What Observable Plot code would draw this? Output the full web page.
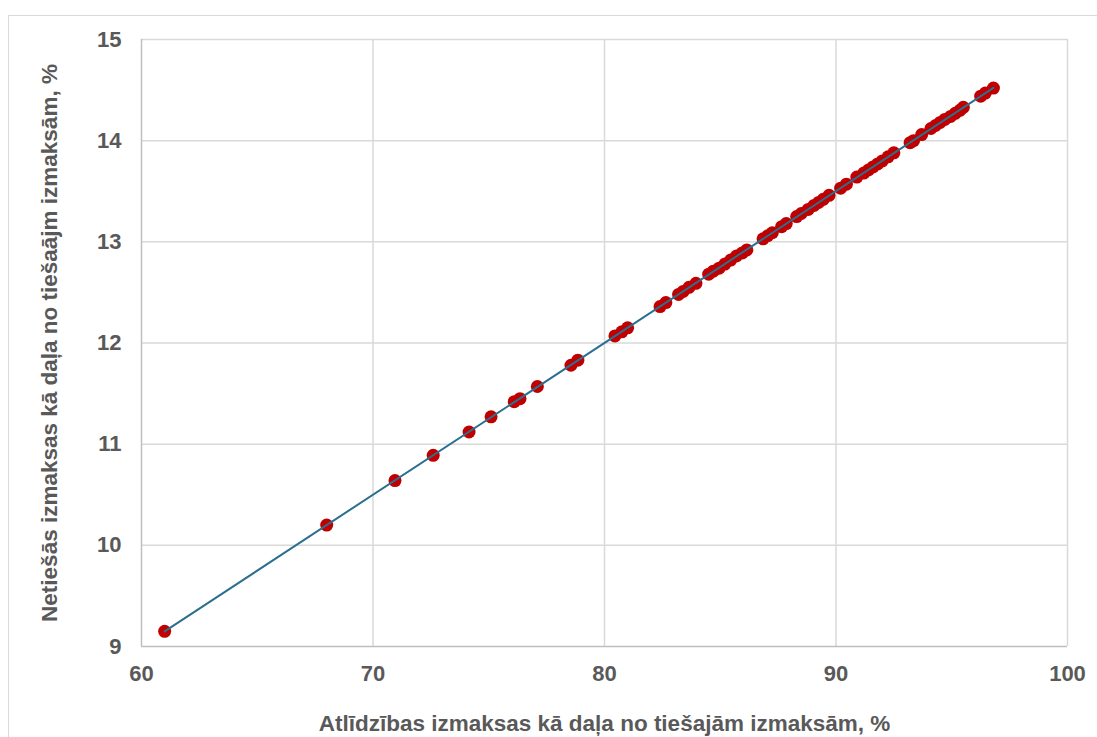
<!DOCTYPE html>
<html>
<head>
<meta charset="utf-8">
<script src="https://cdn.jsdelivr.net/npm/d3@7"></script>
<script src="https://cdn.jsdelivr.net/npm/@observablehq/plot@0.6"></script>
<style>
  html, body { margin: 0; padding: 0; background: #fff; overflow: hidden; width: 1097px; height: 737px; }
  #frame { position: absolute; left: 8px; top: 15px; width: 1200px; height: 800px; border: 1.5px solid #d9d9d9; box-sizing: border-box; }
  #chart { position: absolute; left: 0; top: 0; }
</style>
</head>
<body>
<div id="frame"></div>
<div id="chart"></div>
<script>
const xValues = [61.0, 68.0, 70.95, 72.6, 74.15, 75.1, 76.1, 76.35, 77.1, 78.55, 78.85, 80.45, 80.75, 81.0, 82.4, 82.65, 83.2, 83.4, 83.65, 83.95, 84.5, 84.7, 84.95, 85.2, 85.45, 85.7, 85.95, 86.15, 86.85, 87.05, 87.25, 87.65, 87.85, 88.3, 88.5, 88.8, 89.05, 89.25, 89.45, 89.7, 90.2, 90.45, 90.9, 91.2, 91.4, 91.6, 91.8, 92.0, 92.25, 92.5, 93.2, 93.35, 93.7, 94.1, 94.3, 94.5, 94.7, 94.95, 95.15, 95.35, 95.5, 96.25, 96.45, 96.8];
const yValues = [9.15, 10.20, 10.64, 10.89, 11.12, 11.27, 11.42, 11.45, 11.57, 11.78, 11.83, 12.07, 12.11, 12.15, 12.36, 12.40, 12.48, 12.51, 12.55, 12.59, 12.68, 12.71, 12.74, 12.78, 12.82, 12.86, 12.89, 12.92, 13.03, 13.06, 13.09, 13.15, 13.18, 13.25, 13.28, 13.32, 13.36, 13.39, 13.42, 13.46, 13.53, 13.57, 13.64, 13.68, 13.71, 13.74, 13.77, 13.80, 13.84, 13.88, 13.98, 14.00, 14.06, 14.12, 14.15, 14.18, 14.21, 14.24, 14.27, 14.30, 14.33, 14.44, 14.47, 14.52];
const xTicks = [60, 70, 80, 90, 100];
const yTicks = [9, 10, 11, 12, 13, 14, 15];
const xTitle = "Atlīdzības izmaksas kā daļa no tiešajām izmaksām, %";
const yTitle = "Netiešās izmaksas kā daļa no tiešaājm izmaksām, %";

const data = xValues.map((x, i) => ({x, y: yValues[i]}));

const grey = "#595959";
const font = "'Liberation Sans', Arial, sans-serif";

const chart = Plot.plot({
  width: 1097,
  height: 737,
  marginLeft: 141,
  marginRight: 30,
  marginTop: 39,
  marginBottom: 91,
  style: { fontFamily: font, background: "transparent", overflow: "visible" },
  x: { domain: [60, 100], ticks: xTicks },
  y: { domain: [9, 15], ticks: yTicks },
  marks: [
    Plot.gridX(xTicks.slice(1), { stroke: "#d9d9d9", strokeOpacity: 1, strokeWidth: 1.5 }),
    Plot.gridY(yTicks.slice(1), { stroke: "#d9d9d9", strokeOpacity: 1, strokeWidth: 1.5 }),
    Plot.ruleX([60], { stroke: "#bfbfbf", strokeWidth: 1.5 }),
    Plot.ruleY([9], { stroke: "#bfbfbf", strokeWidth: 1.5 }),
    Plot.axisX(xTicks, { tickSize: 0, tickPadding: 19, fontSize: 22, fontWeight: "bold", fill: grey, label: null, tickFormat: d3.format("d") }),
    Plot.axisY(yTicks, { tickSize: 0, tickPadding: 20, fontSize: 22, fontWeight: "bold", fill: grey, label: null, tickFormat: d3.format("d") }),
    Plot.dot(data, { x: "x", y: "y", r: 6.5, fill: "#c00000", stroke: "none" }),
    Plot.linearRegressionY(data, { x: "x", y: "y", ci: 0, stroke: "#2b6f8f", strokeWidth: 2 }),
    Plot.text([xTitle], { frameAnchor: "bottom", dy: 77, text: d => d, fontSize: 22.5, fontWeight: "bold", fill: grey, lineAnchor: "middle", textAnchor: "middle" }),
    Plot.text([yTitle], { frameAnchor: "left", dx: -92, rotate: -90, text: d => d, fontSize: 22.5, fontWeight: "bold", fill: grey, lineAnchor: "middle", textAnchor: "middle" })
  ]
});
document.getElementById("chart").appendChild(chart);
</script>
</body>
</html>
